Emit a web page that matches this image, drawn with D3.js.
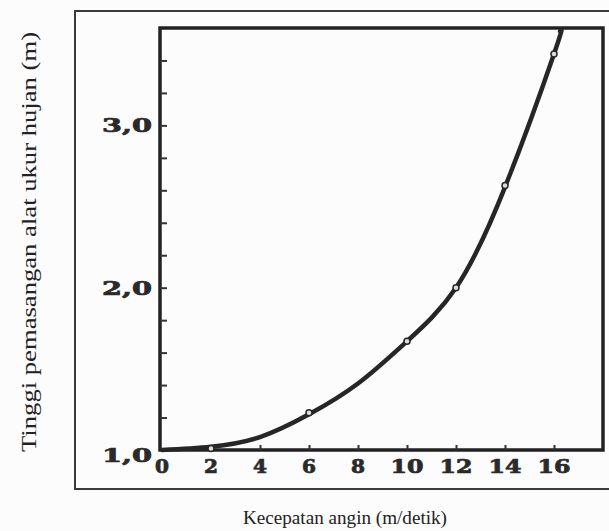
<!DOCTYPE html>
<html lang="id">
<head>
<meta charset="UTF-8">
<title>Tinggi pemasangan alat ukur hujan</title>
<script src="https://d3js.org/d3.v7.min.js"></script>
<style>
  html, body { margin: 0; padding: 0; background: #fcfcfc; }
  svg { display: block; }
</style>
</head>
<body>
<div id="chart"></div>
<script>
// data
const xTicks = [0, 2, 4, 6, 8, 10, 12, 14, 16];
const yLabels = [1.0, 2.0, 3.0];
const curveX = [0, 2, 4, 6, 8, 10, 12, 14, 16, 16.25];
const curveY = [1.0, 1.02, 1.08, 1.22, 1.41, 1.67, 2.0, 2.62, 3.44, 3.58];
const pointX = [2, 6, 10, 12, 14, 16];
const pointY = [1.01, 1.23, 1.67, 2.0, 2.63, 3.44];

const width = 609, height = 531;
const svg = d3.select("#chart").append("svg")
  .attr("width", width)
  .attr("height", height)
  .attr("viewBox", [0, 0, width, height])
  .style("font-family", "'Liberation Serif', 'DejaVu Serif', serif");

const x = d3.scaleLinear().domain([0, 18]).range([162, 603]);
const y = d3.scaleLinear().domain([1, 3.6]).range([450, 28]);

// outer frame (runs off the right edge)
svg.append("rect")
  .attr("x", 75).attr("y", 11)
  .attr("width", 560).attr("height", 478)
  .attr("fill", "none")
  .attr("stroke", "#3a3a3a")
  .attr("stroke-width", 2);

// inner plot box
svg.append("rect")
  .attr("x", x(0) - 2).attr("y", y(3.6))
  .attr("width", x(18) - x(0) + 2).attr("height", y(1) - y(3.6))
  .attr("fill", "none")
  .attr("stroke", "#222")
  .attr("stroke-width", 3.5);

// y ticks every 0.2, pointing inside
const yAxis = d3.axisRight(y)
  .tickValues(d3.range(12, 36, 2).map(d => d / 10))
  .tickSize(7)
  .tickFormat("");
svg.append("g")
  .attr("transform", `translate(${x(0) - 2},0)`)
  .call(yAxis)
  .call(g => g.select(".domain").remove())
  .call(g => g.selectAll("line").attr("stroke", "#333").attr("stroke-width", 2));

// x ticks pointing up
const xAxis = d3.axisTop(x)
  .tickValues(xTicks.slice(1))
  .tickSize(5)
  .tickFormat("");
svg.append("g")
  .attr("transform", `translate(0,${y(1)})`)
  .call(xAxis)
  .call(g => g.select(".domain").remove())
  .call(g => g.selectAll("line").attr("stroke", "#333").attr("stroke-width", 2));

// x tick labels (heavy, wide digits as in the scan)
svg.append("g")
  .selectAll("text")
  .data(xTicks)
  .join("text")
  .attr("x", d => x(d) - (d < 10 ? 7 : 16.5))
  .attr("y", y(1) + 23)
  .attr("font-family", "'DejaVu Serif', serif")
  .attr("font-size", 18)
  .attr("font-weight", "bold")
  .attr("fill", "#2a2a2a")
  .attr("stroke", "#2a2a2a")
  .attr("stroke-width", 0.7)
  .attr("textLength", d => d < 10 ? 14 : 33)
  .attr("lengthAdjust", "spacingAndGlyphs")
  .text(d => d);

// y tick labels
svg.append("g")
  .selectAll("text")
  .data(yLabels)
  .join("text")
  .attr("x", 102)
  .attr("y", d => y(d) + (d === 1 ? 12 : 7))
  .attr("font-family", "'DejaVu Serif', serif")
  .attr("font-size", 18)
  .attr("font-weight", "bold")
  .attr("fill", "#2a2a2a")
  .attr("stroke", "#2a2a2a")
  .attr("stroke-width", 0.7)
  .attr("textLength", 50)
  .attr("lengthAdjust", "spacingAndGlyphs")
  .text(d => d3.format(".1f")(d).replace(".", ","));

// curve
const line = d3.line()
  .x(d => x(d[0]))
  .y(d => y(d[1]))
  .curve(d3.curveNatural);
svg.append("path")
  .datum(curveX.map((d, i) => [d, curveY[i]]))
  .attr("d", line)
  .attr("fill", "none")
  .attr("stroke", "#262626")
  .attr("stroke-width", 4.5)
  .attr("stroke-linecap", "round");

// measured points
svg.append("g")
  .selectAll("circle")
  .data(pointX.map((d, i) => [d, pointY[i]]))
  .join("circle")
  .attr("cx", d => x(d[0]))
  .attr("cy", d => y(d[1]))
  .attr("r", 3)
  .attr("fill", "#ddd")
  .attr("stroke", "#262626")
  .attr("stroke-width", 1.5);

// axis titles
svg.append("text")
  .attr("x", 243)
  .attr("y", 524)
  .attr("font-size", 19)
  .attr("fill", "#222")
  .attr("textLength", 204)
  .attr("lengthAdjust", "spacingAndGlyphs")
  .text("Kecepatan angin (m/detik)");

svg.append("text")
  .attr("transform", "translate(29,452) rotate(-90)")
  .attr("dy", "0.35em")
  .attr("font-size", 21)
  .attr("fill", "#222")
  .attr("textLength", 420)
  .attr("lengthAdjust", "spacingAndGlyphs")
  .text("Tinggi pemasangan alat ukur hujan (m)");
</script>
</body>
</html>
